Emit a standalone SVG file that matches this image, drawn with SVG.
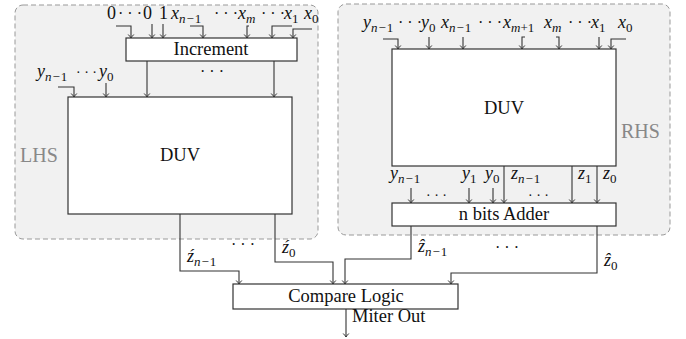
<svg xmlns="http://www.w3.org/2000/svg" width="686" height="339" viewBox="0 0 686 339" font-family="'Liberation Serif', serif">
<style>
.frame{fill:#f1f1f1;stroke:#999;stroke-width:1;stroke-dasharray:5 3}
.box{fill:#fff;stroke:#333;stroke-width:1.2}
.t{font-family:"Liberation Serif",serif;font-size:18.5px;fill:#111}
.m{font-family:"Liberation Serif",serif;font-style:italic;font-size:18px;fill:#111}
.d{font-family:"Liberation Serif",serif;font-size:16px;fill:#111}
.ds{font-family:"Liberation Serif",serif;font-size:14px;fill:#111}
.s{font-size:13px}
.u{font-style:normal}
.lbl{font-family:"Liberation Serif",serif;font-size:20px;fill:#888}
.w{fill:none;stroke:#333;stroke-width:1.1;marker-end:url(#ah)}
</style>
<defs>
<marker id="ah" markerUnits="userSpaceOnUse" markerWidth="8" markerHeight="8" viewBox="-5 -4 6 8" refX="0" refY="0" orient="auto">
<path d="M-3.5,-2.8 Q-1,-0.5 0,0 Q-1,0.5 -3.5,2.8" fill="none" stroke="#333" stroke-width="1"/>
</marker>
</defs>

<g id="lhs">
<rect class="frame" x="15" y="5" width="303" height="234" rx="8"/>
<text class="lbl" x="20" y="162">LHS</text>
</g>
<g id="rhs">
<rect class="frame" x="338" y="4" width="332" height="231" rx="8"/>
<text class="lbl" x="621" y="138">RHS</text>
</g>

<g id="increment">
<rect class="box" x="126" y="38" width="171" height="23"/>
<text class="t" x="211" y="55" text-anchor="middle">Increment</text>
</g>
<g id="duv-lhs">
<rect class="box" x="68" y="97" width="224" height="117"/>
<text class="t" x="180" y="161" text-anchor="middle">DUV</text>
</g>
<g id="duv-rhs">
<rect class="box" x="392" y="49" width="224" height="117"/>
<text class="t" x="504" y="114" text-anchor="middle">DUV</text>
</g>
<g id="adder">
<rect class="box" x="392" y="203" width="224" height="23"/>
<text class="t" x="504" y="220" text-anchor="middle">n bits Adder</text>
</g>
<g id="compare">
<rect class="box" x="233" y="284" width="225" height="25"/>
<text class="t" x="346" y="302" text-anchor="middle">Compare Logic</text>
</g>

<g id="labels">
<!-- LHS top -->
<text class="m u" x="107" y="19">0</text>
<text class="d" x="118" y="19">· · ·</text>
<text class="m u" x="143" y="19">0</text>
<text class="m u" x="159" y="19">1</text>
<text class="m" x="171" y="19">x<tspan class="s" dy="4">n</tspan><tspan class="s u" dx="1">−</tspan><tspan class="s u" dx="1">1</tspan></text>
<text class="d" x="214" y="19">· · ·</text>
<text class="m" x="238" y="19">x<tspan class="s" dy="4">m</tspan></text>
<text class="d" x="261" y="19">· · ·</text>
<text class="m" x="284" y="19">x<tspan class="s u" dy="4">1</tspan></text>
<text class="m" x="304" y="19">x<tspan class="s u" dy="4">0</tspan></text>
<text class="d" x="200" y="77">· · ·</text>
<!-- LHS y -->
<text class="m" x="37" y="77">y<tspan class="s" dy="4">n</tspan><tspan class="s u" dx="1">−</tspan><tspan class="s u" dx="1">1</tspan></text>
<text class="ds" x="76" y="77">· · ·</text>
<text class="m" x="99" y="77">y<tspan class="s u" dy="4">0</tspan></text>
<!-- LHS outputs -->
<text class="m" x="187" y="262">ź<tspan class="s" dy="4">n</tspan><tspan class="s u" dx="1">−</tspan><tspan class="s u" dx="1">1</tspan></text>
<text class="d" x="231" y="250">· · ·</text>
<text class="m" x="282" y="253">ź<tspan class="s u" dy="4">0</tspan></text>
<!-- RHS top -->
<text class="m" x="363" y="28">y<tspan class="s" dy="4">n</tspan><tspan class="s u" dx="1">−</tspan><tspan class="s u" dx="1">1</tspan></text>
<text class="d" x="398" y="28">· · ·</text>
<text class="m" x="421" y="28">y<tspan class="s u" dy="4">0</tspan></text>
<text class="m" x="441" y="28">x<tspan class="s" dy="4">n</tspan><tspan class="s u" dx="1">−</tspan><tspan class="s u" dx="1">1</tspan></text>
<text class="d" x="478" y="28">· · ·</text>
<text class="m" x="503" y="28">x<tspan class="s" dy="4">m</tspan><tspan class="s u">+1</tspan></text>
<text class="m" x="544" y="28">x<tspan class="s" dy="4">m</tspan></text>
<text class="d" x="568" y="28">· · ·</text>
<text class="m" x="591" y="28">x<tspan class="s u" dy="4">1</tspan></text>
<text class="m" x="618" y="28">x<tspan class="s u" dy="4">0</tspan></text>
<!-- RHS lower -->
<text class="m" x="390" y="179">y<tspan class="s" dy="4">n</tspan><tspan class="s u" dx="1">−</tspan><tspan class="s u" dx="1">1</tspan></text>
<text class="m" x="462" y="179">y<tspan class="s u" dy="4">1</tspan></text>
<text class="m" x="485" y="179">y<tspan class="s u" dy="4">0</tspan></text>
<text class="m" x="511" y="179">z<tspan class="s" dy="4">n</tspan><tspan class="s u" dx="1">−</tspan><tspan class="s u" dx="1">1</tspan></text>
<text class="m" x="578" y="179">z<tspan class="s u" dy="4">1</tspan></text>
<text class="m" x="603" y="179">z<tspan class="s u" dy="4">0</tspan></text>
<text class="ds" x="426" y="200">· · ·</text>
<text class="ds" x="528" y="200">· · ·</text>
<!-- adder outputs -->
<text class="m" x="418" y="252">ẑ<tspan class="s" dy="4">n</tspan><tspan class="s u" dx="1">−</tspan><tspan class="s u" dx="1">1</tspan></text>
<text class="d" x="495" y="253">· · ·</text>
<text class="m" x="604" y="266">ẑ<tspan class="s u" dy="4">0</tspan></text>
<text class="t" x="352" y="322">Miter Out</text>
</g>

<g id="connectors">
<path class="w" d="M116,26 H131 V38"/>
<path class="w" d="M152,24 V38"/>
<path class="w" d="M163,24 V38"/>
<path class="w" d="M190,26 H203 V38"/>
<path class="w" d="M249,26 H247 V38"/>
<path class="w" d="M292,26 H272 V38"/>
<path class="w" d="M312,29 H293 V38"/>
<path class="w" d="M147,61 V97"/>
<path class="w" d="M274,61 V97"/>
<path class="w" d="M58,87 H74 V97"/>
<path class="w" d="M106,83 V97"/>
<path class="w" d="M180,214 V271 H239 V284"/>
<path class="w" d="M275,214 V262 H333 V284"/>
<path class="w" d="M383,39 H398 V49"/>
<path class="w" d="M429,37 V49"/>
<path class="w" d="M463,37 V49"/>
<path class="w" d="M525,37 H522 V49"/>
<path class="w" d="M556,37 H559 V49"/>
<path class="w" d="M599,37 V49"/>
<path class="w" d="M626,39 H611 V49"/>
<path class="w" d="M504,166 V203"/>
<path class="w" d="M572,166 V203"/>
<path class="w" d="M597,166 V203"/>
<path class="w" d="M411,188 V203"/>
<path class="w" d="M469,188 V203"/>
<path class="w" d="M493,188 V203"/>
<path class="w" d="M411,226 V259 H345 V284"/>
<path class="w" d="M597,226 V273 H451 V284"/>
<path class="w" d="M346,309 V337"/>
</g>
</svg>
